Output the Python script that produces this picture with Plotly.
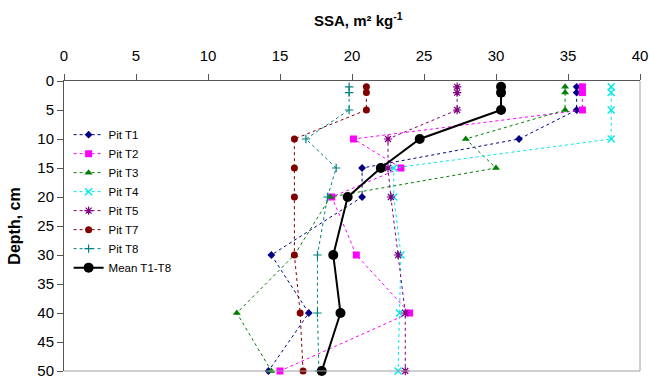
import plotly.graph_objects as go

# Snow depth profile (cm) and specific surface area (m2 kg-1) per pit
depth = [1, 2, 5, 10, 15, 20, 30, 40, 50]

pit_t1 = [35.6, 35.6, 35.6, 31.6, 20.7, 20.7, 14.4, 17.0, 14.2]
pit_t2 = [36.0, 36.0, 36.0, 20.1, 23.4, 18.6, 20.3, 24.0, 15.0]
pit_t3 = [34.8, 34.8, 34.8, 27.9, 30.0, 18.5, 16.0, 12.0, 14.4]
pit_t4 = [38.0, 38.0, 38.0, 38.0, 22.9, 22.9, 23.4, 23.3, 23.2]
pit_t5 = [27.3, 27.3, 27.3, 22.5, 22.5, 22.7, 23.2, 23.7, 23.7]
pit_t7 = [21.0, 21.0, 21.0, 16.0, 16.0, 16.0, 16.0, 16.4, 16.6]
pit_t8 = [19.8, 19.8, 19.8, 16.8, 18.9, 18.3, 17.6, 17.6, 17.7]
mean_t1_t8 = [30.35, 30.35, 30.35, 24.7, 22.0, 19.7, 18.7, 19.2, 17.9]

x_ticks = [0, 5, 10, 15, 20, 25, 30, 35, 40]
y_ticks = [0, 5, 10, 15, 20, 25, 30, 35, 40, 45, 50]

series = [
    ("Pit T1", pit_t1, "#000080", "diamond", 6, 0),
    ("Pit T2", pit_t2, "#FF00FF", "square", 7, 0),
    ("Pit T3", pit_t3, "#008000", "triangle-up", 7, 0),
    ("Pit T4", pit_t4, "#00E8E8", "x-thin", 7, 1.4),
    ("Pit T5", pit_t5, "#800080", "asterisk", 7, 1.2),
    ("Pit T7", pit_t7, "#800000", "circle", 7, 0),
    ("Pit T8", pit_t8, "#008080", "cross-thin", 6, 1.2),
]

fig = go.Figure()
for name, vals, color, symbol, size, lw in series:
    marker = dict(symbol=symbol, size=size, color=color)
    if lw:
        marker["line"] = dict(color=color, width=lw)
    fig.add_trace(go.Scatter(
        x=vals, y=depth, name=name, mode="lines+markers",
        line=dict(color=color, width=1, dash="dot"),
        marker=marker, cliponaxis=False,
    ))

fig.add_trace(go.Scatter(
    x=mean_t1_t8, y=depth, name="Mean T1-T8", mode="lines+markers",
    line=dict(color="black", width=2),
    marker=dict(symbol="circle", size=10, color="black"),
    cliponaxis=False,
))

font_family = "Liberation Sans, Arial, sans-serif"

fig.update_layout(
    width=649, height=378,
    margin=dict(l=64, r=9, t=81, b=7),
    paper_bgcolor="white", plot_bgcolor="white",
    font=dict(family=font_family, color="black"),
    showlegend=True,
    legend=dict(
        x=0.008, y=0.865, xanchor="left", yanchor="top",
        bgcolor="rgba(0,0,0,0)", font=dict(size=11.5, family=font_family),
        tracegroupgap=0, itemwidth=30,
    ),
    xaxis=dict(
        side="top", range=[0, 40], tickvals=x_ticks, automargin=False,
        ticks="outside", ticklen=6, tickcolor="#555555",
        showline=True, linecolor="#555555", linewidth=1,
        showgrid=False, zeroline=False,
        tickfont=dict(size=15), ticklabelstandoff=7,
    ),
    yaxis=dict(
        range=[50, 0], tickvals=y_ticks, automargin=False,
        ticks="outside", ticklen=6, tickcolor="#555555",
        showline=True, linecolor="#555555", linewidth=1,
        showgrid=False, zeroline=False,
        tickfont=dict(size=15), ticklabeloverflow="allow",
        title=dict(text="<b>Depth, cm</b>", font=dict(size=16), standoff=12),
    ),
    annotations=[
        dict(text="<b>SSA, m² kg<sup>-1</sup></b>", xref="paper", yref="paper",
             x=0.5, y=1, yanchor="bottom", xanchor="center", yshift=50, xshift=6,
             showarrow=False, font=dict(size=15)),
    ],
    shapes=[
        dict(type="line", xref="paper", yref="paper", x0=0, x1=1, y0=0, y1=0,
             line=dict(color="#A0A0A0", width=1)),
        dict(type="line", xref="paper", yref="paper", x0=1, x1=1, y0=0, y1=1,
             line=dict(color="#A0A0A0", width=1)),
    ],
)

fig.write_html("out.html")
